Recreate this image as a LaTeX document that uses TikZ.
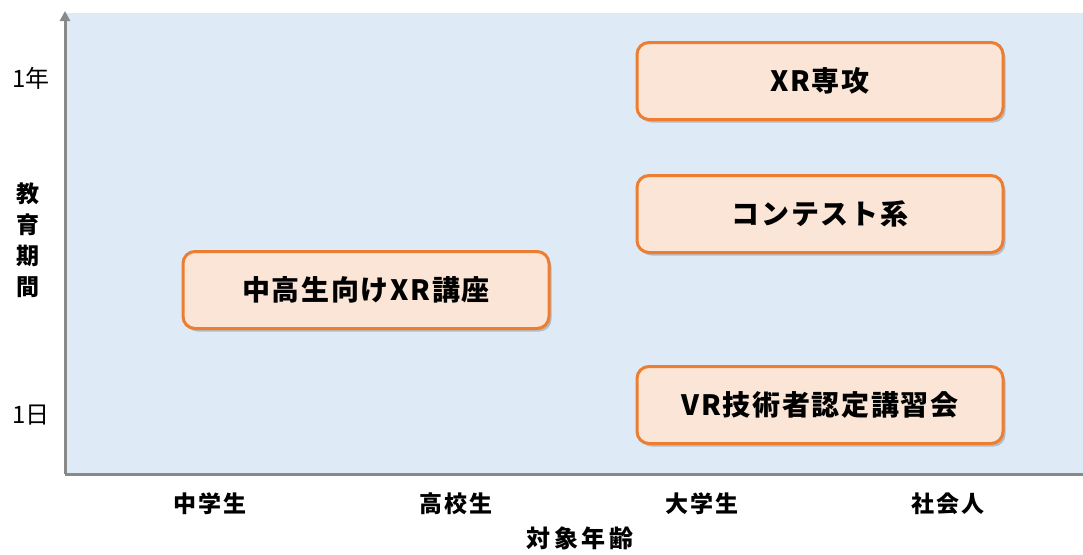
\documentclass[tikz,border=0pt]{standalone}
\usepackage{fontspec}
\setmainfont{Noto Sans CJK JP}
\usetikzlibrary{shadows,arrows.meta}
\definecolor{bgblue}{HTML}{DEEBF7}
\definecolor{boxfill}{HTML}{FBE5D6}
\definecolor{boxline}{HTML}{ED7D31}
\definecolor{axisgray}{HTML}{898989}
\tikzset{
  course/.style={draw=boxline, line width=3pt, fill=boxfill, rounded corners=12pt,
    minimum width=366pt, minimum height=77pt, inner sep=0pt,
    font=\fontsize{28}{30}\selectfont\bfseries\addfontfeature{LetterSpace=6},
    drop shadow={shadow xshift=2.5pt, shadow yshift=-3pt, opacity=0.35, fill=black!60}},
  axislabel/.style={font=\fontsize{23}{25}\selectfont\bfseries\addfontfeature{LetterSpace=10}, inner sep=0pt},
  ticklabel/.style={font=\fontsize{24}{26}\selectfont, inner sep=0pt},
  axisline/.style={draw=axisgray, line width=3pt}
}
\begin{document}
\begin{tikzpicture}[x=1pt,y=-1pt]
\useasboundingbox (0,0) rectangle (1083,554);
\fill[bgblue] (65,13) rectangle (1083,474);
\coordinate (origin) at (65,474);
\coordinate (ytop) at (65,11);
\coordinate (xend) at (1083,474);
\draw[axisline, -{Triangle[length=10pt,width=10pt]}] (origin) -- (ytop);
\draw[axisline] (origin) -- (xend);

\node[course] (major) at (820,81) {XR専攻};
\node[course] (contest) at (820,214) {コンテスト系};
\node[course] (youth) at (366,290) {中高生向けXR講座};
\node[course] (vr) at (820,405) {VR技術者認定講習会};

\node[ticklabel] (y1) at (31,78) {1年};
\node[ticklabel] (y0) at (31,415) {1日};
\node[axislabel, align=center, font=\fontsize{23}{31}\selectfont\bfseries] (ylab) at (28,240) {教\\育\\期\\間};

\node[axislabel] (x1) at (210,504) {中学生};
\node[axislabel] (x2) at (456,504) {高校生};
\node[axislabel] (x3) at (702,504) {大学生};
\node[axislabel] (x4) at (948,504) {社会人};
\node[axislabel, font=\fontsize{24}{26}\selectfont\bfseries\addfontfeature{LetterSpace=15}] (xlab) at (580,538) {対象年齢};
\end{tikzpicture}
\end{document}
